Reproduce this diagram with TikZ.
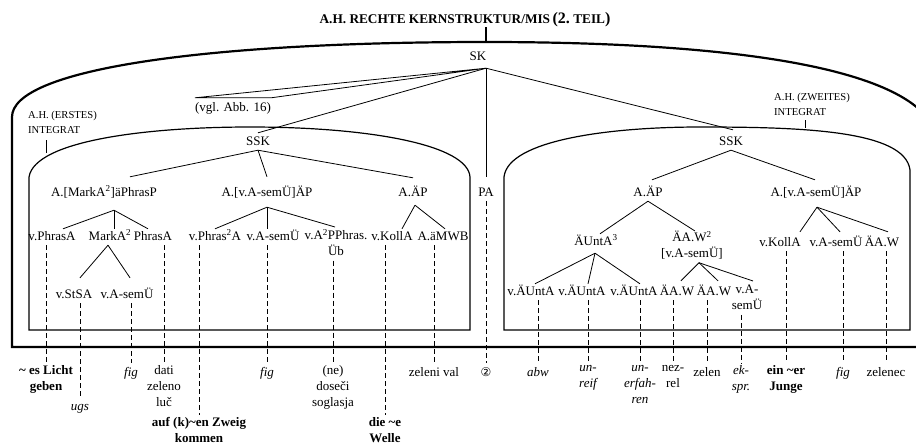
\documentclass[tikz,border=0pt]{standalone}
\usepackage{fontspec}
\setmainfont{Liberation Serif}
\newfontfamily\dejavu{DejaVu Sans}
\begin{document}
\begin{tikzpicture}[x=1pt,y=-1pt,
  tn/.style={inner sep=0pt, font=\fontsize{13}{16}\selectfont, execute at begin node=\strut},
  tnm/.style={tn, align=center, anchor=north},
  lab/.style={inner sep=0pt, font=\fontsize{13}{16}\selectfont, align=center, anchor=north, execute at begin node=\strut},
  labb/.style={lab, font=\fontsize{13}{16}\selectfont\bfseries},
  labi/.style={lab, font=\fontsize{13}{16}\selectfont\itshape},
  hdr/.style={inner sep=0pt, font=\fontsize{10.6}{15}\selectfont, align=left, anchor=north west, execute at begin node=\strut},
  edge/.style={line width=0.8pt},
  dsh/.style={line width=0.8pt, dash pattern=on 5pt off 3pt, shorten >=2pt},
  outerbox/.style={line width=2.2pt},
  innerbox/.style={line width=1.2pt},
  ticky/.style={line width=2.4pt}]
\useasboundingbox (0,0) rectangle (916,445);

% boxes
\begin{scope}
\clip (0,0) rectangle (916,445);
\draw[outerbox] (12,347) -- (12,117) .. controls (12,70) and (200,42) .. (486,42) .. controls (720,42) and (880,65) .. (925,115) -- (925,347) -- cycle;
\end{scope}
\draw[innerbox] (29,330) -- (29,177) .. controls (35,140) and (150,127) .. (250,127) .. controls (370,127) and (468,145) .. (470,177) -- (470,330) -- cycle;
\draw[innerbox] (504,330) -- (504,177) .. controls (508,140) and (610,127) .. (700,127) .. controls (800,127) and (905,130) .. (910,170) -- (910,330) -- cycle;

% title and headers
\node[inner sep=0pt, font=\bfseries] (title) at (465,20) {{\fontsize{13.3}{15}\selectfont A.H. RECHTE KERNSTRUKTUR/MIS} {\fontsize{16}{18}\selectfont (2.} {\fontsize{13.3}{15}\selectfont TEIL}{\fontsize{16}{18}\selectfont )}};
\node[hdr] (int1) at (28,111) {A.H. (ERSTES)\\INTEGRAT};
\node[hdr] (int2) at (774,93) {A.H. (ZWEITES)\\INTEGRAT};
\draw[edge] (int1.south west) ++(18,2) -- ++(0,13);
\draw[edge] (int2.south west) ++(31,0) -- ++(0,8);

% tree nodes
\node[tn] (sk) at (478,57) {SK};
\node[tn] (vgl) at (233,108) {(vgl. Abb. 16)};
\node[tn] (sskL) at (258,142) {SSK};
\node[tn] (sskR) at (731,142) {SSK};
\node[tn] (pa) at (486,193) {PA};
\node[tn] (mpp) at (104,193) {A.[MarkA\textsuperscript{2}]äPhrasP};
\node[tn] (asp) at (267,193) {A.[v.A-semÜ]ÄP};
\node[tn] (aap) at (413,193) {A.ÄP};
\node[tn] (vphrasa) at (52,237) {v.PhrasA};
\node[tn] (marka) at (110,237) {MarkA\textsuperscript{2}};
\node[tn] (phrasa) at (153,237) {PhrasA};
\node[tn] (vphras2a) at (215,237) {v.Phras\textsuperscript{2}A};
\node[tn] (vasemL) at (273,237) {v.A-semÜ};
\node[tnm] (vapp) at (336,229) {v.A\textsuperscript{2}PPhras.\\Üb};
\node[tn] (vkollL) at (392,237) {v.KollA};
\node[tn] (amwb) at (443,237) {A.äMWB};
\node[tn] (vstsa) at (74,295) {v.StSA};
\node[tn] (vasem3) at (127,295) {v.A-semÜ};

\node[tn] (aapR) at (648,193) {A.ÄP};
\node[tn] (avapR) at (816,193) {A.[v.A-semÜ]ÄP};
\node[tn] (uta3) at (596,242) {ÄUntA\textsuperscript{3}};
\node[tnm] (aaw2) at (692,231) {ÄA.W\textsuperscript{2}\\\relax[v.A-semÜ]};
\node[tn] (vkollR) at (780,243) {v.KollA};
\node[tn] (vasemR) at (836,243) {v.A-semÜ};
\node[tn] (aawR) at (882,243) {ÄA.W};
\node[tn] (vu1) at (531,292) {v.ÄUntA};
\node[tn] (vu2) at (582,292) {v.ÄUntA};
\node[tn] (vu3) at (634,292) {v.ÄUntA};
\node[tn] (aaw1) at (677,292) {ÄA.W};
\node[tn] (aawB) at (714,292) {ÄA.W};
\node[tnm] (vasemR3) at (747,285) {v.A-\\semÜ};

% bottom labels
\node[labb] (l1) at (46,365) {\textasciitilde{} es Licht\\geben};
\node[labi] (l2) at (80,399) {ugs};
\node[labi] (l3) at (131,365) {fig};
\node[lab] (l4) at (164,365) {dati\\zeleno\\luč};
\node[labb] (l5) at (199,417) {auf (k)\textasciitilde en Zweig\\kommen};
\node[labi] (l6) at (267,365) {fig};
\node[lab] (l7) at (333,365) {(ne)\\doseči\\soglasja};
\node[labb] (l8) at (385,417) {die \textasciitilde e\\Welle};
\node[lab] (l9) at (434,365) {zeleni val};
\node[lab, font=\dejavu\fontsize{12}{16}\selectfont] (l10) at (486,365) {②};
\node[labi] (r1) at (538,365) {abw};
\node[labi] (r2) at (588,365) {un-\\reif};
\node[labi] (r3) at (640,365) {un-\\erfah-\\ren};
\node[lab] (r4) at (673,365) {nez-\\rel};
\node[lab] (r5) at (707,365) {zelen};
\node[labi] (r6) at (741,365) {ek-\\spr.};
\node[labb] (r7) at (786,365) {ein \textasciitilde er\\Junge};
\node[labi] (r8) at (843,365) {fig};
\node[lab] (r9) at (886,365) {zelenec};

% title tick
\coordinate (skA) at ([xshift=8pt,yshift=-3pt]sk.south);
\draw[ticky] (title.south -| skA) -- ++(0,15);

% connectors
\draw[edge] (skA) -- ([yshift=2pt]vgl.north west) -- ([yshift=2pt]vgl.north east) -- cycle;
\draw[edge] (skA) -- ([yshift=1pt]sskL.north);
\draw[edge] (skA) -- ([xshift=2pt,yshift=4pt]sskR.north);
\draw[edge] (skA) -- ([yshift=8pt]pa.north);

\draw[edge] (sskL.south) -- ([xshift=26pt,yshift=8pt]mpp.north);
\draw[edge] (sskL.south) -- ([yshift=8pt]asp.north);
\draw[edge] (sskL.south) -- ([yshift=7pt]aap.north);

\coordinate (mppA) at ([xshift=10pt,yshift=-9pt]mpp.south);
\draw[edge] (mppA) -- ([xshift=11pt]vphrasa.north);
\draw[edge] (mppA) -- ([xshift=4pt]marka.north);
\draw[edge] (mppA) -- ([xshift=-5pt]phrasa.north);

\coordinate (aspA) at ([yshift=-6pt]asp.south);
\draw[edge] (aspA) -- (vphras2a.north);
\draw[edge] (aspA) -- ([xshift=-6pt]vasemL.north);
\draw[edge] (aspA) -- ([xshift=-1pt,yshift=2pt]vapp.north);

\coordinate (aapA) at ([xshift=2pt,yshift=-4pt]aap.south);
\draw[edge] (aapA) -- ([xshift=10pt]vkollL.north);
\draw[edge] (aapA) -- ([xshift=2pt]amwb.north);

\coordinate (markaA) at ([xshift=-2pt]marka.south);
\draw[edge] (markaA) -- ([xshift=6pt,yshift=9pt]vstsa.north);
\draw[edge] (markaA) -- ([xshift=3pt,yshift=9pt]vasem3.north);

\draw[edge] (sskR.south) -- ([xshift=4pt,yshift=5pt]aapR.north);
\draw[edge] (sskR.south) -- ([xshift=-1pt,yshift=5pt]avapR.north);
\draw[edge] (aapR.south) -- ([xshift=4pt]uta3.north);
\draw[edge] (aapR.south) -- ([xshift=3pt]aaw2.north);

\coordinate (avapRA) at ([xshift=1pt,yshift=-6pt]avapR.south);
\draw[edge] (avapRA) -- ([xshift=20pt,yshift=3pt]vkollR.north);
\draw[edge] (avapRA) -- ([xshift=4pt,yshift=3pt]vasemR.north);
\draw[edge] (avapRA) -- ([xshift=6pt,yshift=3pt]aawR.north);

\coordinate (uta3A) at ([xshift=-1pt,yshift=-3pt]uta3.south);
\draw[edge] (uta3A) -- ([xshift=4pt]vu1.north);
\draw[edge] (uta3A) -- ([xshift=6pt]vu2.north);
\draw[edge] (uta3A) -- ([xshift=6pt]vu3.north);

\coordinate (aaw2A) at ([xshift=7pt]aaw2.south);
\draw[edge] (aaw2A) -- ([xshift=4pt,yshift=3pt]aaw1.north);
\draw[edge] (aaw2A) -- ([xshift=4pt,yshift=3pt]aawB.north);
\draw[edge] (aaw2A) -- ([xshift=6pt,yshift=4pt]vasemR3.north);

% dashed links
\draw[dsh] (vphrasa.south -| l1.north) -- (l1.north);
\draw[dsh] (vstsa.south -| l2.north) -- (l2.north);
\draw[dsh] (vasem3.south -| l3.north) -- (l3.north);
\draw[dsh] (phrasa.south -| l4.north) -- (l4.north);
\draw[dsh] (vphras2a.south -| l5.north) -- (l5.north);
\draw[dsh] (vasemL.south -| l6.north) -- (l6.north);
\draw[dsh] (vapp.south -| l7.north) -- (l7.north);
\draw[dsh] (vkollL.south -| l8.north) -- (l8.north);
\draw[dsh] (amwb.south -| l9.north) -- (l9.north);
\draw[dsh] (pa.south -| l10.north) -- (l10.north);
\draw[dsh] (vu1.south -| r1.north) -- (r1.north);
\draw[dsh] (vu2.south -| r2.north) -- (r2.north);
\draw[dsh] (vu3.south -| r3.north) -- (r3.north);
\draw[dsh] (aaw1.south -| r4.north) -- (r4.north);
\draw[dsh] (aawB.south -| r5.north) -- (r5.north);
\draw[dsh] (vasemR3.south -| r6.north) -- (r6.north);
\draw[dsh] (vkollR.south -| r7.north) -- (r7.north);
\draw[dsh] (vasemR.south -| r8.north) -- (r8.north);
\draw[dsh] (aawR.south -| r9.north) -- (r9.north);
\end{tikzpicture}
\end{document}
